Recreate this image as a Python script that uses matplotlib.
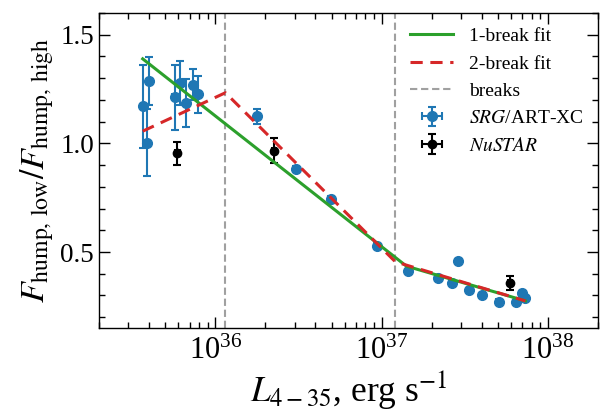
import matplotlib
matplotlib.use("Agg")
import matplotlib.pyplot as plt
import numpy as np

plt.rcParams['font.family'] = 'serif'
plt.rcParams['font.serif'] = ['Liberation Serif', 'DejaVu Serif']
plt.rcParams['mathtext.fontset'] = 'stix'

# SRG/ART-XC data
srg_L = [3.67e35, 3.87e35, 4.02e35, 5.7e35, 6.16e35, 6.7e35, 7.33e35, 7.83e35,
         1.79e36, 3.05e36, 4.94e36, 9.44e36, 1.45e37, 2.17e37, 2.66e37, 2.9e37,
         3.35e37, 4.03e37, 5.05e37, 6.47e37, 7.03e37, 7.33e37]
srg_R = [1.17, 1.003, 1.286, 1.212, 1.278, 1.187, 1.27, 1.225,
         1.125, 0.882, 0.742, 0.528, 0.414, 0.382, 0.359, 0.459,
         0.326, 0.301, 0.271, 0.271, 0.312, 0.288]
srg_err = [0.19, 0.155, 0.11, 0.15, 0.10, 0.11, 0.07, 0.085,
           0.035, 0.015, 0.015, 0.012, 0.01, 0.01, 0.01, 0.01,
           0.01, 0.01, 0.01, 0.01, 0.01, 0.01]
srg_xerr_frac = 0.03

# NuSTAR data
nu_L = [5.92e35, 2.26e36, 5.94e37]
nu_R = [0.954, 0.966, 0.356]
nu_err = [0.052, 0.058, 0.033]
nu_xerr_frac = 0.03

# fits
fit1_L = [3.66e35, 1.41e37, 7.33e37]
fit1_R = [1.389, 0.435, 0.275]
fit2_L = [3.66e35, 1.15e36, 1.21e37, 7.33e37]
fit2_R = [1.056, 1.233, 0.455, 0.275]
breaks = [1.15e36, 1.21e37]

fig = plt.figure(figsize=(6.04, 4.19), dpi=100)
ax = fig.add_axes([0.164, 0.217, 0.826, 0.752])

ax.plot(fit1_L, fit1_R, color='#2ca02c', lw=2.2, label='1-break fit', zorder=4)
ax.plot(fit2_L, fit2_R, color='#d62728', lw=2.2, ls=(0, (4, 2.5)), label='2-break fit', zorder=5)
for i, b in enumerate(breaks):
    ax.axvline(b, color='#a0a0a0', lw=1.5, ls=(0, (3.5, 1.8)), label='breaks' if i == 0 else None, zorder=1)

srg_L_arr = np.array(srg_L)
ax.errorbar(srg_L, srg_R, yerr=srg_err, xerr=srg_L_arr * srg_xerr_frac, fmt='o',
            color='#1f77b4', ms=7, elinewidth=1.5, capsize=3, capthick=1.5,
            label=r'$\mathit{SRG}$/ART-XC', zorder=3)
nu_L_arr = np.array(nu_L)
ax.errorbar(nu_L, nu_R, yerr=nu_err, xerr=nu_L_arr * nu_xerr_frac, fmt='o',
            color='black', ms=6, elinewidth=1.5, capsize=3, capthick=1.5,
            label=r'$\mathit{NuSTAR}$', zorder=3)

ax.set_xscale('log')
ax.set_xlim(2e35, 2e38)
ax.set_ylim(0.15, 1.6)
ax.set_yticks([0.5, 1.0, 1.5])
ax.set_yticklabels(['0.5', '1.0', '1.5'])
ax.yaxis.set_minor_locator(matplotlib.ticker.MultipleLocator(0.1))

ax.tick_params(which='both', direction='in', top=True, right=True)
ax.tick_params(axis='y', labelsize=19.5)
ax.tick_params(axis='x', labelsize=22, pad=6)
ax.tick_params(which='major', length=8, width=1)
ax.tick_params(which='minor', length=4, width=1)
for s in ax.spines.values():
    s.set_linewidth(1)

ax.set_xlabel(r'$L_{4-35}$, erg s$^{-1}$', fontsize=25.5, labelpad=3)
ax.set_ylabel(r'$F_{\rm hump,\,low}/F_{\rm hump,\,high}$', fontsize=24.5, labelpad=4)

ax.legend(loc='upper right', frameon=False, fontsize=14, handlelength=2.2,
          labelspacing=0.5, borderaxespad=0.35)

fig.savefig('out.png', dpi=100)
